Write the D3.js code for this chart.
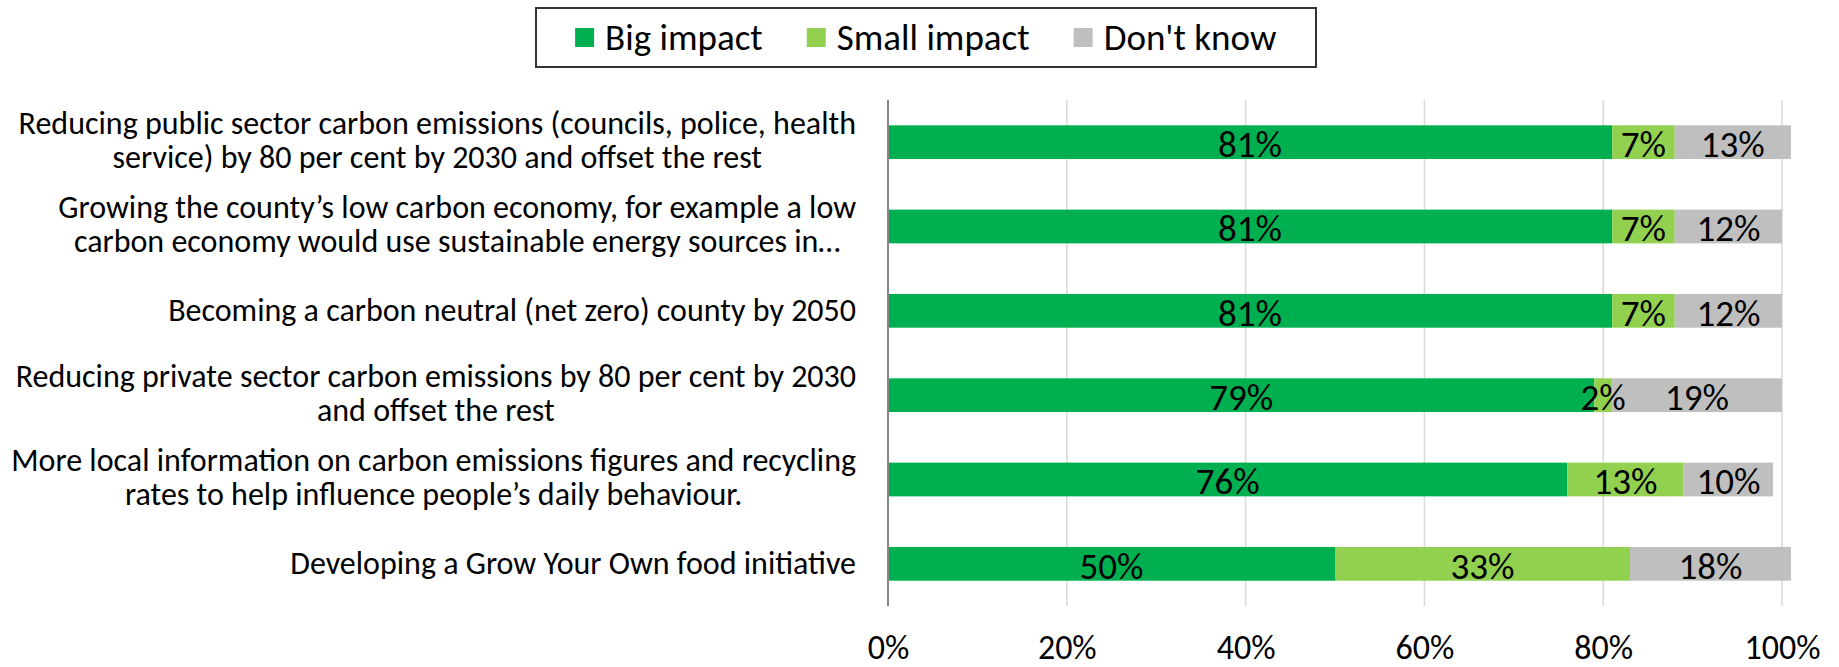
<!DOCTYPE html>
<html>
<head>
<meta charset="utf-8">
<script src="https://cdn.jsdelivr.net/npm/d3@7"></script>
<style>
  html, body { margin: 0; padding: 0; background: #fff; }
  svg { display: block; }
  text { font-family: Carlito, Calibri, Lato, "Open Sans", sans-serif; fill: #000; }
</style>
</head>
<body>
<svg id="chart" width="1839" height="667"></svg>
<script>
// Statements (wrapped as displayed on the axis)
const categories = [
  ["Reducing public sector carbon emissions (councils, police, health", "service) by 80 per cent by 2030 and offset the rest"],
  ["Growing the county\u2019s low carbon economy, for example a low", "carbon economy would use sustainable energy sources in\u2026"],
  ["Becoming a carbon neutral (net zero) county by 2050"],
  ["Reducing private sector carbon emissions by 80 per cent by 2030", "and offset the rest"],
  ["More local information on carbon emissions figures and recycling", "rates to help influence people\u2019s daily behaviour."],
  ["Developing a Grow Your Own food initiative"]
];

const seriesNames = ["Big impact", "Small impact", "Don't know"];
const bigImpact   = [81, 81, 81, 79, 76, 50];
const smallImpact = [7, 7, 7, 2, 13, 33];
const dontKnow    = [13, 12, 12, 19, 10, 18];
const tickValues  = [0, 20, 40, 60, 80, 100];

const colors = ["#00B050", "#92D050", "#BFBFBF"];

const svg = d3.select("#chart");
const margin = { left: 888, right: 57, top: 100, bottom: 61 };
const W = 1839, H = 667;

const x = d3.scaleLinear().domain([0, 100]).range([margin.left, W - margin.right]);
const y = d3.scaleBand()
  .domain(d3.range(categories.length))
  .range([margin.top, H - margin.bottom])
  .paddingInner(0.6)
  .paddingOuter(0.3);

// Vertical gridlines
svg.append("g")
  .selectAll("line")
  .data(tickValues.slice(1))
  .join("line")
  .attr("x1", d => x(d)).attr("x2", d => x(d))
  .attr("y1", margin.top).attr("y2", H - margin.bottom)
  .attr("stroke", "#D9D9D9").attr("stroke-width", 1.5);

// Stack the three series per statement
const rows = categories.map((c, i) => ({ i, v: [bigImpact[i], smallImpact[i], dontKnow[i]] }));
const segs = [];
rows.forEach(r => {
  let acc = 0;
  r.v.forEach((v, s) => {
    segs.push({ i: r.i, s, v, x0: acc, x1: acc + v });
    acc += v;
  });
});

svg.append("g")
  .selectAll("rect")
  .data(segs)
  .join("rect")
  .attr("x", d => x(d.x0))
  .attr("width", d => x(d.x1) - x(d.x0))
  .attr("y", d => y(d.i))
  .attr("height", y.bandwidth())
  .attr("fill", d => colors[d.s]);

// Value labels
svg.append("g")
  .selectAll("text")
  .data(segs)
  .join("text")
  .attr("x", d => x((d.x0 + d.x1) / 2))
  .attr("y", d => y(d.i) + y.bandwidth() / 2)
  .attr("text-anchor", "middle")
  .attr("dominant-baseline", "central")
  .attr("dy", "0.06em")
  .style("font-size", "37px")
  .text(d => d.v + "%");

// Category axis line
svg.append("line")
  .attr("x1", x(0)).attr("x2", x(0))
  .attr("y1", margin.top).attr("y2", H - margin.bottom)
  .attr("stroke", "#868686").attr("stroke-width", 2);

// Category labels: block right-aligned, lines centered within block
const lineH = 34;
const catG = svg.append("g");
categories.forEach((lines, i) => {
  const g = catG.append("g");
  const texts = lines.map(l => g.append("text").style("font-size", "32px").text(l));
  const maxW = d3.max(texts, t => t.node().getComputedTextLength());
  const cx = x(0) - 32 - maxW / 2;
  const cy = y(i) + y.bandwidth() / 2 - (lines.length > 1 ? 2 : 0);
  texts.forEach((t, k) => {
    t.attr("x", cx)
      .attr("y", cy + (k - (lines.length - 1) / 2) * lineH)
      .attr("text-anchor", "middle")
      .attr("dominant-baseline", "central");
  });
});

// Percentage axis
const xAxis = d3.axisBottom(x).tickValues(tickValues).tickFormat(d => d + "%").tickSize(0).tickPadding(0);
const axG = svg.append("g").attr("transform", `translate(0, ${H - margin.bottom})`).call(xAxis);
axG.select(".domain").remove();
axG.selectAll("text")
  .attr("y", 41)
  .attr("dy", "0")
  .attr("dominant-baseline", "central")
  .style("font-size", "34px")
  .style("font-family", null);

// Legend
const legend = svg.append("g");
const legBox = { x: 536, y: 8, w: 780, h: 59 };
legend.append("rect")
  .attr("x", legBox.x).attr("y", legBox.y)
  .attr("width", legBox.w).attr("height", legBox.h)
  .attr("fill", "#fff").attr("stroke", "#333").attr("stroke-width", 2);

const sq = 19;
const items = legend.selectAll("g.item").data(seriesNames).join("g").attr("class", "item");
items.append("rect").attr("width", sq).attr("height", sq).attr("fill", (d, i) => colors[i]);
items.append("text")
  .attr("x", sq + 11).attr("y", sq / 2)
  .attr("dominant-baseline", "central")
  .style("font-size", "37px")
  .text(d => d);

const gap = 44;
const widths = items.nodes().map(n => n.getBBox().width);
const total = d3.sum(widths) + gap * (widths.length - 1);
let cur = legBox.x + (legBox.w - total) / 2;
items.each(function (d, i) {
  d3.select(this).attr("transform", `translate(${cur}, ${legBox.y + legBox.h / 2 - sq / 2})`);
  cur += widths[i] + gap;
});
</script>
</body>
</html>
